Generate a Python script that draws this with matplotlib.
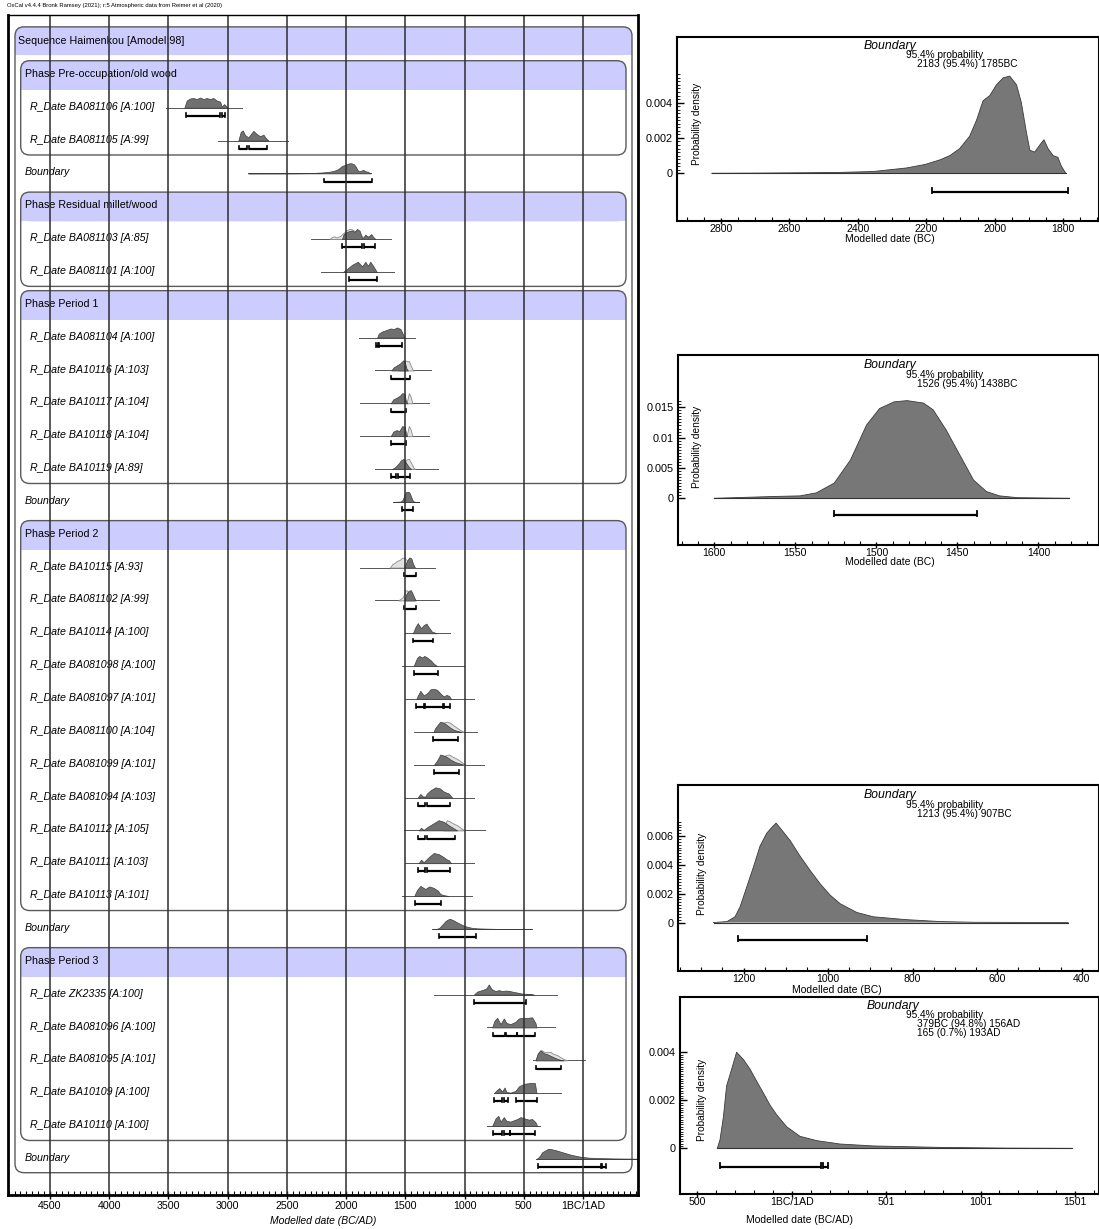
import numpy as np
import matplotlib
matplotlib.use('Agg')
import matplotlib.pyplot as plt
import matplotlib.transforms as mtransforms
from matplotlib.patches import FancyBboxPatch, Rectangle
from matplotlib.ticker import MultipleLocator, FixedLocator

plt.rcParams['font.family'] = ['Liberation Sans', 'DejaVu Sans']

W, H = 1099, 1229

# ------------------------------------------------------------------ data
HEADER = "OxCal v4.4.4 Bronk Ramsey (2021); r:5 Atmospheric data from Reimer et al (2020)"
SEQ_TITLE = "Sequence Haimenkou [Amodel:98]"

# --- Phase Pre-occupation/old wood (years BC, relative density)
BA081106_bc = [3366, 3346, 3318, 3290, 3261, 3233, 3205, 3177, 3149, 3121, 3092, 3064, 3050, 3030, 3008, 2997]
BA081106_p = [0, 0.7, 0.9, 0.95, 0.85, 1.0, 0.85, 0.95, 0.85, 0.95, 0.7, 0.6, 0.1, 0.35, 0.1, 0]
BA081106_span = (3520, 2880)
BA081106_hpd = [(3355, 3064), (3047, 3019)]

BA081105_bc = [2910, 2890, 2873, 2853, 2825, 2805, 2783, 2754, 2726, 2698, 2676, 2656]
BA081105_p = [0, 0.8, 0.95, 0.5, 0.3, 0.6, 0.9, 0.6, 0.4, 0.55, 0.2, 0]
BA081105_span = (3080, 2490)
BA081105_hpd = [(2903, 2839), (2817, 2670)]

# --- Boundary 1 (years BC, probability density)
B1_bc = [2827, 2700, 2550, 2452, 2355, 2258, 2203, 2160, 2131, 2102, 2073, 2053, 2034, 2014, 1995,
         1975, 1956, 1936, 1922, 1907, 1897, 1883, 1868, 1856, 1844, 1829, 1815, 1805, 1792]
B1_p = [0, 0.00001, 0.00003, 0.00005, 0.0001, 0.0003, 0.0005, 0.00076, 0.001, 0.0014, 0.0021, 0.003,
        0.0041, 0.0044, 0.005, 0.0054, 0.0055, 0.005, 0.004, 0.0023, 0.0013, 0.0012, 0.0016, 0.0019,
        0.0014, 0.001, 0.0009, 0.0004, 0]
B1_hpd = [(2183, 1785)]
B1_text = ["95.4% probability", "2183 (95.4%) 1785BC"]

# --- Phase Residual millet/wood
BA081103_bc = [2035, 2020, 1992, 1970, 1949, 1930, 1907, 1885, 1865, 1855, 1837, 1815, 1789, 1770, 1752]
BA081103_p = [0, 0.5, 0.7, 0.8, 0.85, 0.7, 1.0, 0.8, 0.1, 0.1, 0.45, 0.15, 0.5, 0.2, 0]
BA081103_lbc = [2140, 2120, 2100, 2080, 2050, 2020, 1992, 1970, 1949, 1920, 1900, 1880, 1860, 1840, 1800, 1760]
BA081103_lp = [0, 0.2, 0.25, 0.15, 0.3, 0.6, 0.85, 0.95, 0.9, 0.7, 0.6, 0.4, 0.2, 0.3, 0.3, 0]
BA081103_span = (2300, 1625)
BA081103_hpd = [(2035, 1865), (1851, 1760)]

BA081101_bc = [2025, 1992, 1949, 1901, 1865, 1837, 1817, 1795, 1767, 1741]
BA081101_p = [0, 0.3, 0.7, 1.0, 0.55, 1.0, 0.6, 1.0, 0.5, 0]
BA081101_span = (2212, 1597)
BA081101_hpd = [(1979, 1741)]

# --- Phase Period 1
BA081104_bc = [1738, 1724, 1696, 1659, 1625, 1597, 1569, 1541, 1518, 1507]
BA081104_p = [0, 0.4, 0.6, 0.75, 0.9, 0.85, 1.0, 0.85, 0.3, 0]
BA081104_span = (1893, 1414)
BA081104_hpd = [(1744, 1730), (1718, 1524)]

BA10116_bc = [1618, 1599, 1571, 1543, 1518, 1507, 1490, 1479]
BA10116_p = [0, 0.3, 0.5, 0.7, 1.0, 0.9, 0.2, 0]
BA10116_lbc = [1560, 1530, 1515, 1500, 1480, 1470, 1455, 1440, 1428]
BA10116_lp = [0, 0.3, 0.6, 0.8, 0.7, 0.75, 0.4, 0.1, 0]
BA10116_span = (1758, 1287)
BA10116_hpd = [(1618, 1462)]

BA10117_bc = [1623, 1601, 1573, 1546, 1526, 1507, 1496, 1485]
BA10117_p = [0, 0.4, 0.55, 0.75, 1.0, 0.95, 0.3, 0]
BA10117_lbc = [1490, 1470, 1455, 1440]
BA10117_lp = [0, 0.15, 0.1, 0]
BA10117_span = (1879, 1301)
BA10117_hpd = [(1623, 1490)]

BA10118_bc = [1623, 1601, 1573, 1551, 1526, 1504, 1493, 1485]
BA10118_p = [0, 0.45, 0.6, 0.5, 1.0, 0.9, 0.2, 0]
BA10118_lbc = [1490, 1470, 1455, 1440]
BA10118_lp = [0, 0.15, 0.1, 0]
BA10118_span = (1879, 1301)
BA10118_hpd = [(1623, 1490)]

BA10119_bc = [1612, 1584, 1556, 1538, 1515, 1490, 1470, 1451]
BA10119_p = [0, 0.2, 0.55, 0.85, 1.0, 0.55, 0.2, 0]
BA10119_lbc = [1540, 1510, 1490, 1470, 1450, 1430, 1414]
BA10119_lp = [0, 0.5, 0.8, 0.85, 0.5, 0.1, 0]
BA10119_span = (1758, 1225)
BA10119_hpd = [(1618, 1580), (1565, 1457)]

# --- Boundary 2
B2_bc = [1600, 1563, 1547, 1537, 1526, 1516, 1506, 1498, 1489, 1481, 1471, 1465, 1457, 1448, 1440,
         1432, 1424, 1413, 1381]
B2_p = [0, 0.0003, 0.0004, 0.0009, 0.0025, 0.0063, 0.0121, 0.0148, 0.0159, 0.0161, 0.0157, 0.0146,
        0.0113, 0.0069, 0.0030, 0.0011, 0.0004, 0.0001, 0]
B2_hpd = [(1526, 1438)]
B2_text = ["95.4% probability", "1526 (95.4%) 1438BC"]

# --- Phase Period 2
BA10115_bc = [1508, 1492, 1478, 1466, 1449, 1436, 1419]
BA10115_p = [0, 0.5, 0.8, 1.0, 0.9, 0.4, 0]
BA10115_lbc = [1630, 1610, 1590, 1570, 1550, 1530, 1510, 1495, 1480, 1460, 1440, 1420]
BA10115_lp = [0, 0.25, 0.35, 0.5, 0.55, 0.7, 0.75, 0.6, 0.5, 0.4, 0.1, 0]
BA10115_span = (1881, 1246)
BA10115_hpd = [(1514, 1406)]

BA081102_bc = [1508, 1492, 1472, 1452, 1436, 1413]
BA081102_p = [0, 0.6, 0.95, 1.0, 0.6, 0]
BA081102_lbc = [1560, 1540, 1520, 1500, 1490, 1470, 1440, 1420]
BA081102_lp = [0, 0.15, 0.3, 0.9, 0.9, 0.6, 0.2, 0]
BA081102_span = (1754, 1218)
BA081102_hpd = [(1508, 1406)]

BA10114_bc = [1436, 1415, 1395, 1379, 1365, 1345, 1322, 1302, 1274, 1232]
BA10114_p = [0, 0.6, 1.0, 0.7, 0.5, 0.8, 0.95, 0.6, 0.15, 0]
BA10114_span = (1500, 1119)
BA10114_hpd = [(1436, 1268)]

BA081098_bc = [1430, 1401, 1382, 1359, 1339, 1317, 1288, 1260, 1232]
BA081098_p = [0, 0.8, 1.0, 0.85, 1.0, 0.85, 0.6, 0.25, 0]
BA081098_span = (1528, 1006)
BA081098_hpd = [(1430, 1226)]

BA081097_bc = [1407, 1396, 1373, 1345, 1311, 1288, 1260, 1232, 1204, 1176, 1153, 1130, 1113]
BA081097_p = [0, 0.3, 0.8, 0.35, 0.6, 0.95, 1.0, 0.9, 0.55, 0.25, 0.4, 0.3, 0]
BA081097_span = (1500, 922)
BA081097_hpd = [(1407, 1345), (1335, 1180), (1170, 1125)]

BA081100_bc = [1260, 1251, 1226, 1204, 1176, 1153, 1119, 1091, 1049, 1029]
BA081100_p = [0, 0.3, 0.7, 1.0, 0.9, 0.7, 0.4, 0.2, 0.05, 0]
BA081100_lbc = [1230, 1200, 1170, 1145, 1120, 1095, 1065, 1035, 1006]
BA081100_lp = [0, 0.6, 0.8, 0.85, 0.75, 0.55, 0.35, 0.15, 0]
BA081100_span = (1430, 894)
BA081100_hpd = [(1265, 1057)]

BA081099_bc = [1257, 1232, 1204, 1176, 1147, 1119, 1077, 1035, 1012]
BA081099_p = [0, 0.4, 1.0, 0.9, 0.75, 0.5, 0.25, 0.1, 0]
BA081099_lbc = [1220, 1190, 1160, 1130, 1100, 1070, 1040, 1010, 990]
BA081099_lp = [0, 0.6, 0.85, 0.9, 0.7, 0.55, 0.35, 0.1, 0]
BA081099_span = (1430, 837)
BA081099_hpd = [(1260, 1049)]

BA081094_bc = [1395, 1373, 1351, 1331, 1317, 1288, 1246, 1210, 1176, 1147, 1133, 1105]
BA081094_p = [0, 0.35, 0.1, 0.1, 0.4, 0.7, 1.0, 0.9, 0.6, 0.45, 0.4, 0]
BA081094_span = (1500, 922)
BA081094_hpd = [(1393, 1337), (1317, 1119)]

BA10112_bc = [1387, 1367, 1345, 1311, 1260, 1218, 1176, 1133, 1105, 1077, 1063]
BA10112_p = [0, 0.25, 0.05, 0.35, 0.7, 1.0, 0.85, 0.5, 0.3, 0.1, 0]
BA10112_lbc = [1180, 1150, 1120, 1090, 1060, 1030, 1000]
BA10112_lp = [0, 0.7, 0.6, 0.45, 0.35, 0.15, 0]
BA10112_span = (1514, 823)
BA10112_hpd = [(1393, 1337), (1317, 1077)]

BA10111_bc = [1387, 1367, 1345, 1302, 1260, 1218, 1176, 1153, 1133, 1113]
BA10111_p = [0, 0.35, 0.1, 0.6, 1.0, 0.9, 0.6, 0.4, 0.3, 0]
BA10111_span = (1500, 922)
BA10111_hpd = [(1393, 1337), (1317, 1119)]

BA10113_bc = [1425, 1401, 1373, 1331, 1297, 1260, 1226, 1204, 1176, 1133]
BA10113_p = [0, 0.6, 1.0, 0.7, 0.95, 0.8, 0.55, 0.2, 0.1, 0]
BA10113_span = (1528, 936)
BA10113_hpd = [(1421, 1196)]

# --- Boundary 3
B3_bc = [1271, 1239, 1220, 1208, 1192, 1176, 1161, 1145, 1133, 1123, 1109, 1090, 1066, 1042, 1019,
         995, 971, 932, 893, 814, 735, 656, 432]
B3_p = [0, 0.00007, 0.0004, 0.0011, 0.0025, 0.0039, 0.0053, 0.0062, 0.0066, 0.0069, 0.0064, 0.0057,
        0.0046, 0.0036, 0.0027, 0.0019, 0.0013, 0.0007, 0.0004, 0.0002, 0.00007, 0.00002, 0]
B3_hpd = [(1213, 907)]
B3_text = ["95.4% probability", "1213 (95.4%) 907BC"]

# --- Phase Period 3
ZK2335_bc = [921, 893, 851, 817, 795, 772, 738, 710, 682, 654, 626, 598, 555, 513, 443, 415]
ZK2335_p = [0, 0.3, 0.45, 0.6, 1.0, 0.55, 0.35, 0.45, 0.35, 0.4, 0.38, 0.3, 0.2, 0.1, 0.05, 0]
ZK2335_span = (1259, 218)
ZK2335_hpd = [(916, 477)]

BA081096_bc = [767, 747, 724, 696, 668, 646, 612, 570, 541, 513, 471, 429, 401, 392]
BA081096_p = [0, 0.6, 0.85, 0.3, 0.8, 0.4, 0.3, 0.5, 0.8, 0.85, 0.85, 0.9, 0.4, 0]
BA081096_span = (809, 232)
BA081096_hpd = [(758, 655), (650, 560), (555, 401)]

BA081095_bc = [401, 381, 359, 331, 302, 274, 246, 218, 189, 167]
BA081095_p = [0, 0.7, 1.0, 0.7, 0.6, 0.45, 0.3, 0.15, 0.05, 0]
BA081095_lbc = [400, 380, 350, 330, 300, 275, 250, 220, 190, 160, 130]
BA081095_lp = [0, 0.6, 0.95, 0.8, 0.75, 0.8, 0.6, 0.5, 0.3, 0.1, 0]
BA081095_span = (420, -15)
BA081095_hpd = [(396, 189)]

BA10109_bc = [753, 724, 707, 682, 662, 646, 612, 570, 541, 513, 485, 443, 406, 392]
BA10109_p = [0, 0.3, 0.45, 0.15, 0.5, 0.1, 0.05, 0.2, 0.6, 0.75, 0.85, 0.9, 0.9, 0]
BA10109_span = (738, 189)
BA10109_hpd = [(747, 682), (668, 634), (564, 392)]

BA10110_bc = [767, 738, 715, 696, 668, 646, 612, 584, 555, 527, 493, 457, 429, 401, 387]
BA10110_p = [0, 0.6, 0.8, 0.35, 0.7, 0.4, 0.35, 0.45, 0.55, 0.7, 0.6, 0.5, 0.55, 0.3, 0]
BA10110_span = (809, 359)
BA10110_hpd = [(758, 680), (670, 620), (612, 401)]

# --- Boundary 4 (signed years: BC negative, AD positive)
B4_ad = [-394, -380, -362, -345, -318, -292, -256, -221, -186, -150, -115, -80, -27, 44, 133, 256,
         433, 786, 1140, 1484]
B4_p = [0, 0.00035, 0.0013, 0.0026, 0.0033, 0.0040, 0.0037, 0.0033, 0.0028, 0.0023, 0.0018, 0.0014,
        0.0009, 0.0005, 0.00032, 0.00018, 0.0001, 0.00004, 0.00001, 0]
B4_hpd = [(-378, 156), (165, 193)]
B4_text = ["95.4% probability", "379BC (94.8%) 156AD", "165 (0.7%) 193AD"]

MAIN_TICKS = [-4500, -4000, -3500, -3000, -2500, -2000, -1500, -1000, -500, 0]
MAIN_TICKLABELS = ['4500', '4000', '3500', '3000', '2500', '2000', '1500', '1000', '500', '1BC/1AD']


def neg(v):
    return [-a for a in v]


def negpairs(v):
    return [(-a, -b) for a, b in v]


def date(label, bc, p, lbc, lp, span, hpd):
    return ('date', label, neg(bc), p, None if lbc is None else neg(lbc), lp, neg(span), negpairs(hpd))


items = [
    ('sequence', SEQ_TITLE),
    ('phase', 'Phase Pre-occupation/old wood'),
    date('R_Date BA081106 [A:100]', BA081106_bc, BA081106_p, None, None, BA081106_span, BA081106_hpd),
    date('R_Date BA081105 [A:99]', BA081105_bc, BA081105_p, None, None, BA081105_span, BA081105_hpd),
    ('boundary', 'Boundary', neg(B1_bc), B1_p, negpairs(B1_hpd)),
    ('phase', 'Phase Residual millet/wood'),
    date('R_Date BA081103 [A:85]', BA081103_bc, BA081103_p, BA081103_lbc, BA081103_lp, BA081103_span, BA081103_hpd),
    date('R_Date BA081101 [A:100]', BA081101_bc, BA081101_p, None, None, BA081101_span, BA081101_hpd),
    ('phase', 'Phase Period 1'),
    date('R_Date BA081104 [A:100]', BA081104_bc, BA081104_p, None, None, BA081104_span, BA081104_hpd),
    date('R_Date BA10116 [A:103]', BA10116_bc, BA10116_p, BA10116_lbc, BA10116_lp, BA10116_span, BA10116_hpd),
    date('R_Date BA10117 [A:104]', BA10117_bc, BA10117_p, BA10117_lbc, BA10117_lp, BA10117_span, BA10117_hpd),
    date('R_Date BA10118 [A:104]', BA10118_bc, BA10118_p, BA10118_lbc, BA10118_lp, BA10118_span, BA10118_hpd),
    date('R_Date BA10119 [A:89]', BA10119_bc, BA10119_p, BA10119_lbc, BA10119_lp, BA10119_span, BA10119_hpd),
    ('boundary', 'Boundary', neg(B2_bc), B2_p, negpairs(B2_hpd)),
    ('phase', 'Phase Period 2'),
    date('R_Date BA10115 [A:93]', BA10115_bc, BA10115_p, BA10115_lbc, BA10115_lp, BA10115_span, BA10115_hpd),
    date('R_Date BA081102 [A:99]', BA081102_bc, BA081102_p, BA081102_lbc, BA081102_lp, BA081102_span, BA081102_hpd),
    date('R_Date BA10114 [A:100]', BA10114_bc, BA10114_p, None, None, BA10114_span, BA10114_hpd),
    date('R_Date BA081098 [A:100]', BA081098_bc, BA081098_p, None, None, BA081098_span, BA081098_hpd),
    date('R_Date BA081097 [A:101]', BA081097_bc, BA081097_p, None, None, BA081097_span, BA081097_hpd),
    date('R_Date BA081100 [A:104]', BA081100_bc, BA081100_p, BA081100_lbc, BA081100_lp, BA081100_span, BA081100_hpd),
    date('R_Date BA081099 [A:101]', BA081099_bc, BA081099_p, BA081099_lbc, BA081099_lp, BA081099_span, BA081099_hpd),
    date('R_Date BA081094 [A:103]', BA081094_bc, BA081094_p, None, None, BA081094_span, BA081094_hpd),
    date('R_Date BA10112 [A:105]', BA10112_bc, BA10112_p, BA10112_lbc, BA10112_lp, BA10112_span, BA10112_hpd),
    date('R_Date BA10111 [A:103]', BA10111_bc, BA10111_p, None, None, BA10111_span, BA10111_hpd),
    date('R_Date BA10113 [A:101]', BA10113_bc, BA10113_p, None, None, BA10113_span, BA10113_hpd),
    ('boundary', 'Boundary', neg(B3_bc), B3_p, negpairs(B3_hpd)),
    ('phase', 'Phase Period 3'),
    date('R_Date ZK2335 [A:100]', ZK2335_bc, ZK2335_p, None, None, ZK2335_span, ZK2335_hpd),
    date('R_Date BA081096 [A:100]', BA081096_bc, BA081096_p, None, None, BA081096_span, BA081096_hpd),
    date('R_Date BA081095 [A:101]', BA081095_bc, BA081095_p, BA081095_lbc, BA081095_lp, BA081095_span, BA081095_hpd),
    date('R_Date BA10109 [A:100]', BA10109_bc, BA10109_p, None, None, BA10109_span, BA10109_hpd),
    date('R_Date BA10110 [A:100]', BA10110_bc, BA10110_p, None, None, BA10110_span, BA10110_hpd),
    ('boundary', 'Boundary', B4_ad, B4_p, B4_hpd),
]

# ------------------------------------------------------------------ figure
fig = plt.figure(figsize=(W / 100, H / 100), dpi=100)


def fr(l, t, r, b):
    return [l / W, 1 - b / H, (r - l) / W, (b - t) / H]


def fxy(x, y):
    return x / W, 1 - y / H


AX_L, AX_T, AX_R, AX_B = 8, 15, 638, 1195
LINE0, LINE_PX = 41.0, 32.85
ax = fig.add_axes(fr(AX_L, AX_T, AX_R, AX_B))
ax.set_xlim(-4855, 465)
ax.set_ylim((AX_B - LINE0) / LINE_PX, (AX_T - LINE0) / LINE_PX)
trans = mtransforms.blended_transform_factory(ax.transAxes, ax.transData)
AXW = AX_R - AX_L

FS = 7.7
DARK = '#707070'
DARK_EDGE = '#3c3c3c'
BAND = '#ccccff'
BORDER = '#5a5a5a'

yb, hgt, ybar = 0.03, 0.31, 0.28
tick_up = 0.09


def rounded(x0, x1, top, bottom, **kw):
    r = 9 / AXW
    asp = AXW / LINE_PX
    return FancyBboxPatch((x0, top), x1 - x0, bottom - top,
                          boxstyle=f"round,pad=0,rounding_size={r}",
                          mutation_aspect=asp, transform=trans, **kw)


def draw_box(i0, i1, x0, x1, top_off, band_off, bot_off):
    top, bottom, band = i0 + top_off, i1 + bot_off, i0 + band_off
    ax.add_patch(rounded(x0, x1, top, bottom, facecolor='white', edgecolor='none', zorder=1))
    ax.add_patch(rounded(x0, x1, top, band, facecolor=BAND, edgecolor='none', zorder=1.2))
    ax.add_patch(Rectangle((x0, top + 0.3), x1 - x0, band - top - 0.3, facecolor=BAND,
                           edgecolor='none', transform=trans, zorder=1.2))
    ax.add_patch(rounded(x0, x1, top, bottom, facecolor='none', edgecolor=BORDER, lw=1.0, zorder=1.5))


# boxes
n = len(items)
draw_box(0, n - 1, (15 - AX_L) / AXW, (632 - AX_L) / AXW, -0.43, 0.43, 0.45)
for i, it in enumerate(items):
    if it[0] == 'phase':
        j = i
        while j + 1 < n and items[j + 1][0] == 'date':
            j += 1
        draw_box(i, j, (20.7 - AX_L) / AXW, (626 - AX_L) / AXW, -0.40, 0.49, 0.47)


def bars(i, hpd, lw=1.6):
    y = i + ybar
    for a, b in hpd:
        ax.plot([a, b], [y, y], color='black', lw=lw, solid_capstyle='butt', zorder=5)
        for e in (a, b):
            ax.plot([e, e], [y + 0.02, y - tick_up], color='black', lw=1.2, zorder=5)


for i, it in enumerate(items):
    kind = it[0]
    if kind == 'sequence':
        ax.text((18 - AX_L) / AXW, i, it[1], transform=trans, fontsize=FS, va='center', ha='left', zorder=3)
    elif kind == 'phase':
        ax.text((25 - AX_L) / AXW, i, it[1], transform=trans, fontsize=FS, va='center', ha='left', zorder=3)
    elif kind == 'date':
        _, label, x, p, lx, lp, span, hpd = it
        ax.text((30 - AX_L) / AXW, i, label, transform=trans, fontsize=FS, style='italic',
                va='center', ha='left', zorder=3)
        base = i + yb
        ax.plot(span, [base, base], color='#555555', lw=0.7, zorder=3)
        if lx is not None:
            lpn = np.array(lp) / max(lp)
            ax.fill_between(lx, base, base - hgt * lpn, facecolor='#e2e2e2', edgecolor='#8a8a8a',
                            lw=0.6, zorder=3.5)
        pn = np.array(p) / max(p)
        ax.fill_between(x, base, base - hgt * pn, facecolor=DARK, edgecolor=DARK_EDGE, lw=0.5, zorder=4)
        bars(i, hpd)
    elif kind == 'boundary':
        _, label, x, p, hpd = it
        ax.text((25 - AX_L) / AXW, i, label, transform=trans, fontsize=FS, style='italic',
                va='center', ha='left', zorder=3)
        base = i + yb
        ax.plot([x[0], x[-1]], [base, base], color='#555555', lw=0.7, zorder=3)
        pn = np.array(p) / max(p)
        ax.fill_between(x, base, base - hgt * pn, facecolor=DARK, edgecolor=DARK_EDGE, lw=0.5, zorder=4)
        bars(i, hpd)

for v in MAIN_TICKS:
    ax.axvline(v, color='#2e2e2e', lw=1.1, zorder=6)

ax.set_xticks(MAIN_TICKS)
ax.set_xticklabels(MAIN_TICKLABELS)
ax.xaxis.set_minor_locator(MultipleLocator(50))
ax.set_yticks([])
ax.tick_params(axis='x', which='major', direction='inout', length=6, width=1, pad=1, labelsize=FS)
ax.tick_params(axis='x', which='minor', direction='in', length=3, width=0.8)
for side, s in ax.spines.items():
    s.set_linewidth(1.0 if side == 'top' else 2.0)
    s.set_zorder(7)

fig.text(*fxy(323, 1221), 'Modelled date (BC/AD)', ha='center', va='center', fontsize=7.5, style='italic')
fig.text(*fxy(7, 5), HEADER, ha='left', va='center', fontsize=4.2)


# ------------------------------------------------------------------ side panels
def panel(rect, x, p, hpd, xlim, ylim, xmaj, xlab, xmin_step, ymaj, ylab, ystep, bar_y,
          title_xy, text_xy, lines, xlabel, xlabel_xy, ylabel_xy):
    l, t, r, b = rect
    a = fig.add_axes(fr(l, t, r, b))
    a.fill_between(x, 0, p, facecolor='#777777', edgecolor='none', zorder=2)
    a.plot(x, p, color='#3a3a3a', lw=0.6, zorder=3)
    a.plot([x[0], x[-1]], [0, 0], color='#333333', lw=0.8, zorder=3)
    tk = (ylim[1] - ylim[0]) / (b - t) * 4.0
    for lo, hi in hpd:
        a.plot([lo, hi], [bar_y, bar_y], color='black', lw=1.6, solid_capstyle='butt', zorder=4)
        for e in (lo, hi):
            a.plot([e, e], [bar_y - tk * 0.35, bar_y + tk], color='black', lw=1.3, zorder=4)
    a.set_xlim(*xlim)
    a.set_ylim(*ylim)
    a.set_xticks(xmaj)
    a.set_xticklabels(xlab)
    a.xaxis.set_minor_locator(MultipleLocator(xmin_step))
    a.set_yticks(ymaj)
    a.set_yticklabels(ylab)
    a.yaxis.set_minor_locator(FixedLocator(np.arange(0, max(p) * 1.02, ystep)))
    a.tick_params(axis='x', which='major', direction='inout', length=4, width=1, pad=0, labelsize=7.6)
    a.tick_params(axis='x', which='minor', direction='in', length=3, width=0.8)
    a.tick_params(axis='y', which='major', direction='in', length=5, width=1, pad=3, labelsize=7.8)
    a.tick_params(axis='y', which='minor', direction='in', length=2.5, width=0.6)
    for s in a.spines.values():
        s.set_linewidth(1.5)
    fig.text(*fxy(*title_xy), 'Boundary', ha='center', va='center', fontsize=8.8, style='italic')
    tx, ty = text_xy
    fig.text(*fxy(tx, ty), lines[0], ha='left', va='center', fontsize=7.3)
    for k, ln in enumerate(lines[1:]):
        fig.text(*fxy(tx + 11, ty + 9 + 8.5 * k), ln, ha='left', va='center', fontsize=7.3)
    fig.text(*fxy(*xlabel_xy), xlabel, ha='center', va='center', fontsize=7.5)
    fig.text(*fxy(*ylabel_xy), 'Probability density', ha='center', va='center', fontsize=7.3, rotation=90)
    return a


panel((677, 37, 1099, 221), neg(B1_bc), B1_p, negpairs(B1_hpd), (-2928.5, -1695), (-0.0027, 0.00771),
      [-2800, -2600, -2400, -2200, -2000, -1800], ['2800', '2600', '2400', '2200', '2000', '1800'], 50,
      [0, 0.002, 0.004], ['0', '0.002', '0.004'], 0.0002, -0.00104,
      (890, 46), (906, 55), B1_text, 'Modelled date (BC)', (890, 239), (697, 124))

panel((678, 355, 1099, 545), neg(B2_bc), B2_p, negpairs(B2_hpd), (-1622.4, -1362.6), (-0.0077, 0.02362),
      [-1600, -1550, -1500, -1450, -1400], ['1600', '1550', '1500', '1450', '1400'], 10,
      [0, 0.005, 0.01, 0.015], ['0', '0.005', '0.01', '0.015'], 0.0005, -0.00275,
      (890, 365), (906, 375), B2_text, 'Modelled date (BC)', (890, 562), (697, 447))

panel((678, 785, 1099, 971), neg(B3_bc), B3_p, negpairs(B3_hpd), (-1355, -359), (-0.00336, 0.00954),
      [-1200, -1000, -800, -600, -400], ['1200', '1000', '800', '600', '400'], 50,
      [0, 0.002, 0.004, 0.006], ['0', '0.002', '0.004', '0.006'], 0.0002, -0.00118,
      (890, 795), (906, 805), B3_text, 'Modelled date (BC)', (837, 990), (702, 874))

panel((680, 997, 1099, 1194), B4_ad, B4_p, B4_hpd, (-591.7, 1627), (-0.0019, 0.0063),
      [-500, 0, 500, 1000, 1500], ['500', '1BC/1AD', '501', '1001', '1501'], 100,
      [0, 0.002, 0.004], ['0', '0.002', '0.004'], 0.0001, -0.000765,
      (893, 1006), (906, 1015), B4_text, 'Modelled date (BC/AD)', (800, 1220), (702, 1100))

fig.savefig('out.png', dpi=100)
